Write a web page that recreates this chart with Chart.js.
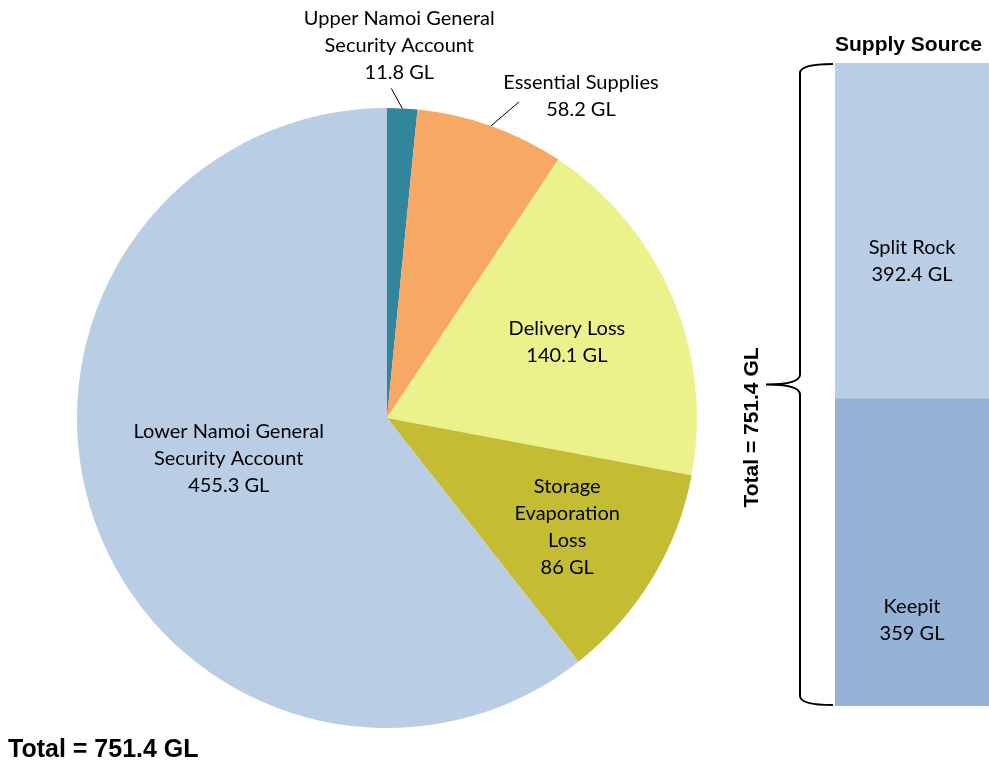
<!DOCTYPE html>
<html>
<head>
<meta charset="utf-8">
<script src="https://cdn.jsdelivr.net/npm/chart.js@4"></script>
<style>
  html, body { margin: 0; padding: 0; background: #fff; }
  #wrap { position: relative; width: 989px; height: 764px; overflow: hidden; }
  #wrap canvas { position: absolute; left: 0; top: 0; }
</style>
</head>
<body>
<div id="wrap">
  <canvas id="pieChart" width="989" height="764"></canvas>
  <canvas id="barChart" width="989" height="764"></canvas>
</div>
<script>
// Water use (GL)
const useLabels = [
  ["Upper Namoi General", "Security Account"],
  ["Essential Supplies"],
  ["Delivery Loss"],
  ["Storage", "Evaporation", "Loss"],
  ["Lower Namoi General", "Security Account"]
];
const useValues = [11.8, 58.2, 140.1, 86, 455.3];
const useColors = ["#31859C", "#F8A865", "#EBF18B", "#C4BD34", "#B9CDE5"];

// Supply source (GL), bottom first
const sourceLabels = ["Keepit", "Split Rock"];
const sourceValues = [359, 392.4];
const sourceColors = ["#95B3D7", "#B9CDE5"];

const totalText = "Total = 751.4 GL";
const labelFont = "20px Lato";
const lineGap = 27;

// label placement per slice: inside = radial factor (+ nudge), outside = offsets from the rim
const pieLabelPos = [
  { out: true, line: [-11, -20], text: [-3, -36] },
  { out: true, line: [28, -24], text: [90, -16] },
  { f: 0.63, nudge: [0, 0] },
  { f: 0.68, nudge: [0, 0] },
  { f: 0.53, nudge: [-3, -13] }
];

function drawLines(ctx, lines, x, yLast) {
  const y0 = yLast - (lines.length - 1) * lineGap;
  lines.forEach((t, i) => ctx.fillText(t, x, y0 + i * lineGap));
}

const pieLabelsPlugin = {
  id: "pieLabels",
  afterDraw(chart) {
    const ctx = chart.ctx;
    const meta = chart.getDatasetMeta(0);
    ctx.save();
    ctx.font = labelFont;
    ctx.fillStyle = "#000";
    ctx.textAlign = "center";
    ctx.textBaseline = "middle";
    meta.data.forEach((arc, i) => {
      const p = arc.getProps(["x", "y", "startAngle", "endAngle", "outerRadius"], true);
      const mid = (p.startAngle + p.endAngle) / 2;
      const lines = useLabels[i].concat([useValues[i] + " GL"]);
      const pos = pieLabelPos[i];
      if (pos.out) {
        const ex = p.x + p.outerRadius * Math.cos(mid);
        const ey = p.y + p.outerRadius * Math.sin(mid);
        ctx.strokeStyle = "#000";
        ctx.lineWidth = 1;
        ctx.beginPath();
        ctx.moveTo(ex, ey);
        ctx.lineTo(ex + pos.line[0], ey + pos.line[1]);
        ctx.stroke();
        drawLines(ctx, lines, ex + pos.text[0], ey + pos.text[1]);
      } else {
        const r = p.outerRadius * pos.f;
        const cx = p.x + r * Math.cos(mid) + pos.nudge[0];
        const cy = p.y + r * Math.sin(mid) + pos.nudge[1];
        drawLines(ctx, lines, cx, cy + (lines.length - 1) * lineGap / 2);
      }
    });
    ctx.font = "bold 25px 'Liberation Sans', Arial";
    ctx.textAlign = "left";
    ctx.textBaseline = "alphabetic";
    ctx.fillText(totalText, 8, 757);
    ctx.restore();
  }
};

const barLabelsPlugin = {
  id: "barLabels",
  afterDraw(chart) {
    const ctx = chart.ctx;
    const area = chart.chartArea;
    const y = chart.scales.y;
    ctx.save();
    ctx.fillStyle = "#000";
    ctx.textAlign = "center";
    ctx.textBaseline = "middle";
    ctx.font = labelFont;
    const frac = [0.72, 0.59];
    chart.data.datasets.forEach((ds, i) => {
      const bar = chart.getDatasetMeta(i).data[0];
      const top = Math.min(bar.y, bar.base);
      const h = Math.abs(bar.base - bar.y);
      const cy = top + h * frac[i];
      ctx.fillText(ds.label, (area.left + area.right) / 2, cy - lineGap / 2);
      ctx.fillText(ds.data[0] + " GL", (area.left + area.right) / 2, cy + lineGap / 2);
    });

    // title
    ctx.font = "bold 21px 'Liberation Sans', Arial";
    ctx.textAlign = "left";
    ctx.textBaseline = "alphabetic";
    ctx.fillText("Supply Source", area.left, 51);

    // brace
    const yTop = y.getPixelForValue(sourceValues[0] + sourceValues[1]);
    const yBot = y.getPixelForValue(0);
    const mid = (yTop + yBot) / 2;
    const bx = area.left - 35;
    const tip = area.left - 69;
    ctx.strokeStyle = "#000";
    ctx.lineWidth = 2;
    ctx.beginPath();
    ctx.moveTo(area.left - 2, yTop + 1);
    ctx.quadraticCurveTo(bx, yTop + 1, bx, yTop + 10);
    ctx.lineTo(bx, mid - 10);
    ctx.quadraticCurveTo(bx, mid, tip, mid);
    ctx.moveTo(bx, mid + 10);
    ctx.quadraticCurveTo(bx, mid, tip, mid);
    ctx.moveTo(bx, mid + 10);
    ctx.lineTo(bx, yBot - 10);
    ctx.quadraticCurveTo(bx, yBot - 1, area.left - 2, yBot - 1);
    ctx.stroke();

    // rotated total
    ctx.translate(bx - 48, mid + 43);
    ctx.rotate(-Math.PI / 2);
    ctx.font = "bold 21px 'Liberation Sans', Arial";
    ctx.textAlign = "center";
    ctx.textBaseline = "middle";
    ctx.fillText(totalText, 0, 0);
    ctx.restore();
  }
};

new Chart(document.getElementById("pieChart"), {
  type: "pie",
  data: {
    labels: useLabels.map((l) => l.join(" ")),
    datasets: [{
      data: useValues,
      backgroundColor: useColors,
      borderWidth: 0
    }]
  },
  options: {
    responsive: false,
    animation: false,
    layout: { padding: { left: 77, top: 108, right: 292, bottom: 36 } },
    plugins: { legend: { display: false }, tooltip: { enabled: false } }
  },
  plugins: [pieLabelsPlugin]
});

new Chart(document.getElementById("barChart"), {
  type: "bar",
  data: {
    labels: ["Supply Source"],
    datasets: sourceLabels.map((name, i) => ({
      label: name,
      data: [sourceValues[i]],
      backgroundColor: sourceColors[i],
      borderWidth: 0,
      barPercentage: 1,
      categoryPercentage: 1
    }))
  },
  options: {
    responsive: false,
    animation: false,
    layout: { padding: { left: 835, top: 63, right: 0, bottom: 58 } },
    scales: {
      x: { stacked: true, display: false },
      y: { stacked: true, display: false, min: 0, max: sourceValues[0] + sourceValues[1] }
    },
    plugins: { legend: { display: false }, tooltip: { enabled: false } }
  },
  plugins: [barLabelsPlugin]
});
</script>
</body>
</html>
